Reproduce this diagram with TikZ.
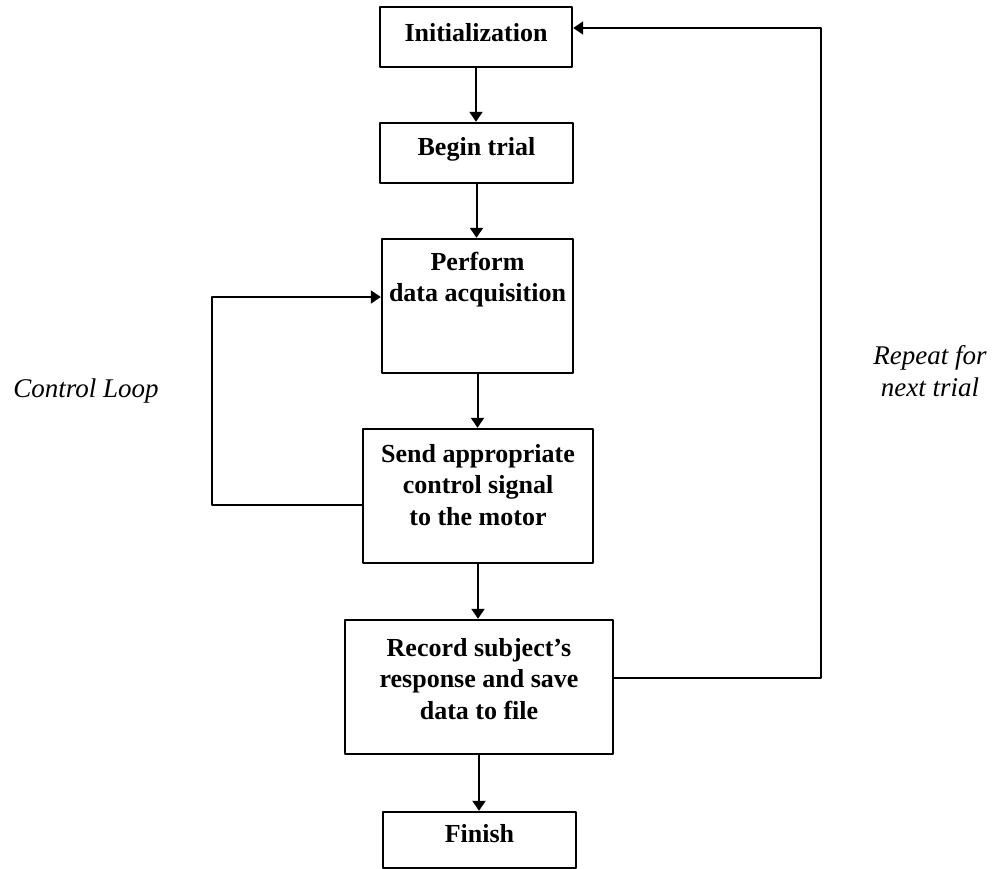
\documentclass[tikz,border=0pt]{standalone}
\usepackage{fontspec}
\setmainfont{Liberation Serif}
\usetikzlibrary{arrows.meta}

\tikzset{
	box/.style={draw, line width=2.4pt, inner sep=0pt},
	txt/.style={anchor=north, align=center, inner sep=0pt, font=\fontsize{26}{31.5}\selectfont\bfseries},
	note/.style={align=center, inner sep=0pt, font=\fontsize{27}{32}\selectfont\itshape},
	flow/.style={->, line width=2pt},
}

\begin{document}
\begin{tikzpicture}[line cap=round,line join=round,>={Triangle[length=10pt,width=13pt]},x=1pt,y=-1pt]
		\useasboundingbox (0,0) rectangle (995,869);
		% boxes
		\node[box, minimum width=192, minimum height=60, label={[txt,yshift=-17pt]north:Initialization}] (init) at (476,37) {};
		\node[box, minimum width=193, minimum height=60, label={[txt,yshift=-15pt]north:Begin trial}] (begin) at (476.5,153) {};
		\node[box, minimum width=191, minimum height=134, label={[txt,yshift=-14pt]north:Perform\\data acquisition}] (acq) at (477.5,306) {};
		\node[box, minimum width=230, minimum height=134, label={[txt,yshift=-16pt]north:Send appropriate\\control signal\\to the motor}] (send) at (478,496) {};
		\node[box, minimum width=268, minimum height=134, label={[txt,yshift=-19pt]north:Record subject’s\\response and save\\data to file}] (record) at (479,687) {};
		\node[box, minimum width=193, minimum height=56, label={[txt,yshift=-13pt]north:Finish}] (finish) at (479.5,840) {};
		% side notes
		\node[note] (ctrl) at (86,391) {Control Loop};
		\node[note] (repeat) at (930,371) {Repeat for\\next trial};
		\coordinate (cl) at (212,400);
		\coordinate (rl) at (821,350);
		% connectors
		\draw[flow] (init.south) -- (init.south |- begin.north);
		\draw[flow] (begin.south) -- (begin.south |- acq.north);
		\draw[flow] (acq.south) -- (acq.south |- send.north);
		\draw[flow] (send.south) -- (send.south |- record.north);
		\draw[flow] (record.south) -- (record.south |- finish.north);
		\draw[flow] (send.west |- 0,505) -| (cl) |- (acq.west |- 0,297);
		\draw[flow] (record.east |- 0,678) -| (rl) |- (init.east |- 0,28);
\end{tikzpicture}
\end{document}
